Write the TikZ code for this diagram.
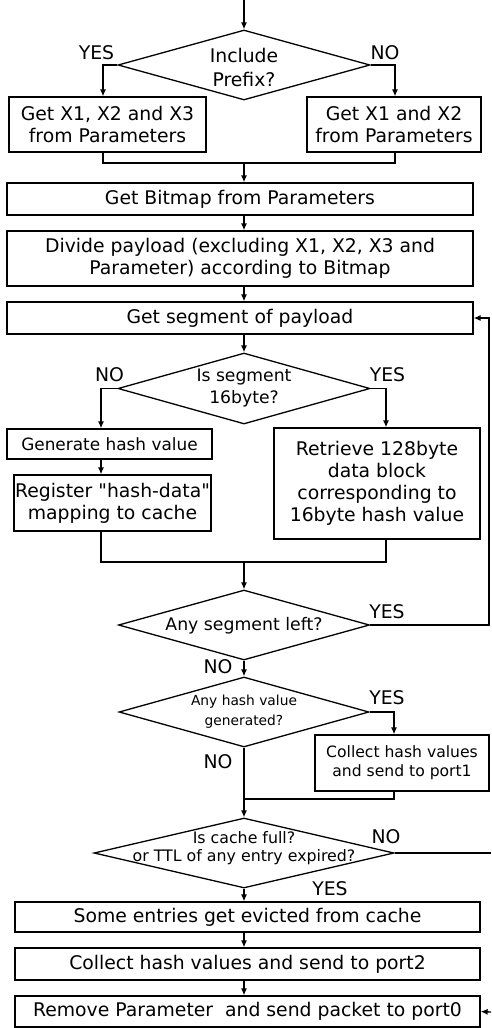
\documentclass[tikz,border=0pt]{standalone}
\usepackage{fontspec}
\setmainfont{DejaVu Sans}
\usetikzlibrary{arrows.meta,shapes.geometric}

\begin{document}
\begin{tikzpicture}[x=1pt,y=-1pt,line width=1.3pt,
  font=\fontsize{18.8}{22}\selectfont,
  box/.style={draw,rectangle,inner sep=0pt,align=center},
  dec/.style={draw,diamond,inner sep=0pt},
  dtxt/.style={align=center,inner sep=0pt},
  yn/.style={inner sep=0pt},
  arr/.style={-{Latex[length=7pt,width=6pt]}}]
\useasboundingbox (0,0) rectangle (491,1028);
\coordinate (start) at (244,0);
\coordinate (axis) at (244,0);
\coordinate (xl1) at (103,0);
\coordinate (xr1) at (395,0);
\coordinate (xl2) at (101,0);
\coordinate (xr2) at (386,0);
\coordinate (xr4) at (394,0);

% include prefix
\node[dec,minimum width=252,minimum height=70] (inc) at (244,65) {};
\node[dtxt,font=\fontsize{18.8}{24}\selectfont] (inct) at (244,67.5) {Include\\Prefix?};
\node[yn] (incy) at (96.5,53) {YES};
\node[yn] (incn) at (385,53) {NO};
\draw[arr] (start) -- (inc.north);
\node[box,minimum width=197,minimum height=55] (x123) at (107.5,124.5) {Get X1, X2 and X3\\from Parameters};
\node[box,minimum width=174,minimum height=55] (x12) at (394,124.5) {Get X1 and X2\\from Parameters};
\draw[arr] (inc.west) -| (x123.north -| xl1);
\draw[arr] (inc.east) -| (x12.north -| xr1);
\coordinate (j1) at (244,163);
\draw (x123.south -| xl1) |- (j1) -| (x12.south -| xr1);

% bitmap and segments
\node[box,minimum width=466,minimum height=32] (bmp) at (240,199) {Get Bitmap from Parameters};
\draw[arr] (j1) -- (bmp.north -| axis);
\node[box,minimum width=466,minimum height=55] (div) at (240,258.5) {Divide payload (excluding X1, X2, X3 and\\Parameter) according to Bitmap};
\draw[arr] (bmp.south -| axis) -- (div.north -| axis);
\node[box,minimum width=466,minimum height=32] (seg) at (240,318) {Get segment of payload};
\draw[arr] (div.south -| axis) -- (seg.north -| axis);

% 16byte check
\node[dec,minimum width=252,minimum height=71] (is16) at (244,388.5) {};
\node[dtxt,font=\fontsize{17.2}{22}\selectfont] (is16t) at (244,388.5) {Is segment\\16byte?};
\node[yn] (is16n) at (109.5,375) {NO};
\node[yn] (is16y) at (387.5,375) {YES};
\draw[arr] (seg.south -| axis) -- (is16.north);
\node[box,font=\fontsize{16.9}{20}\selectfont,minimum width=205,minimum height=30] (gen) at (109.5,444) {Generate hash value};
\node[box,minimum width=197,minimum height=56] (reg) at (112.5,503) {Register \textquotedbl hash-data\textquotedbl\\mapping to cache};
\node[box,minimum width=206,minimum height=111] (ret) at (377,483.5) {Retrieve 128byte\\data block\\corresponding to\\16byte hash value};
\draw[arr] (is16.west) -| (gen.north -| xl2);
\draw[arr] (gen.south -| xl2) -- (reg.north -| xl2);
\draw[arr] (is16.east) -| (ret.north -| xr2);
\coordinate (j2) at (244,562);
\draw (reg.south -| xl2) |- (j2) -| (ret.south -| xr2);

% loop
\node[dec,minimum width=251,minimum height=70] (left) at (244,625) {};
\node[dtxt,font=\fontsize{17.3}{22}\selectfont] (leftt) at (244,626) {Any segment left?};
\node[yn] (lefty) at (387,612) {YES};
\node[yn] (leftn) at (218,667) {NO};
\draw[arr] (j2) -- (left.north);
\coordinate (back) at (489,625);
\draw[arr] (left.east) -- (back) |- (seg.east);

% hash generated
\node[dec,minimum width=250,minimum height=70] (hash) at (244,712) {};
\node[dtxt,font=\fontsize{13.8}{20}\selectfont] (hasht) at (244,712) {Any hash value\\generated?};
\node[yn] (hashy) at (387,698) {YES};
\node[yn] (hashn) at (218,762) {NO};
\draw[arr] (left.south) -- (hash.north);
\node[box,font=\fontsize{15.6}{19}\selectfont,minimum width=174,minimum height=56] (col1) at (402,763) {Collect hash values\\and send to port1};
\draw[arr] (hash.east) -| (col1.north -| xr4);
\coordinate (j3) at (244,799);
\draw (col1.south -| xr4) |- (j3);

% cache check
\node[dec,minimum width=300,minimum height=70] (full) at (244,853) {};
\node[dtxt,font=\fontsize{15.8}{18}\selectfont] (fullt) at (244,848) {Is cache full?\\or TTL of any entry expired?};
\node[yn] (fulln) at (386,837) {NO};
\node[yn] (fully) at (330,889) {YES};
\draw[arr] (hash.south) -- (full.north);
\coordinate (outA) at (491,853);
\draw (full.east) -- (outA);

% bottom
\node[box,minimum width=465,minimum height=30] (evict) at (247.5,917) {Some entries get evicted from cache};
\node[box,minimum width=465,minimum height=32] (col2) at (247.5,964) {Collect hash values and send to port2};
\node[box,minimum width=465,minimum height=31] (rem) at (247.5,1011.5) {Remove Parameter\ \ and send packet to port0};
\draw[arr] (full.south) -- (evict.north -| axis);
\draw[arr] (evict.south -| axis) -- (col2.north -| axis);
\draw[arr] (col2.south -| axis) -- (rem.north -| axis);
\coordinate (outB) at (491,1012);
\draw[arr] (outB) -- (rem.east);
\end{tikzpicture}
\end{document}
